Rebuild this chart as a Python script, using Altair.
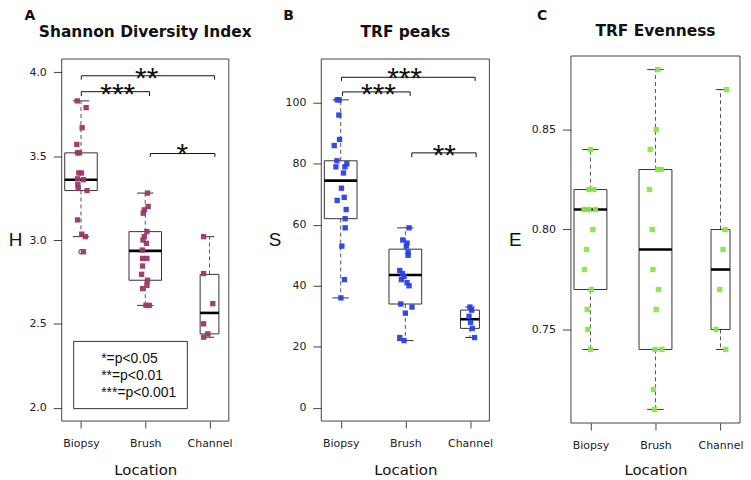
import altair as alt
import pandas as pd

GROUPS = ["Biopsy", "Brush", "Channel"]

# ---------------- Panel A : Shannon Diversity Index (H) ----------------
A_BIOPSY = [3.83, 3.79, 3.67, 3.57, 3.52, 3.52, 3.40, 3.40, 3.365, 3.36, 3.33, 3.31, 3.295, 3.12, 3.035, 3.02, 2.93]
A_BIOPSY_JIT = [-0.058, 0.080, 0.018, -0.065, -0.054, -0.023, -0.034, 0.008, -0.054, 0.038, -0.049, -0.043, 0.095, -0.054, 0.012, 0.069, 0.038]
A_BRUSH = [3.28, 3.20, 3.18, 3.16, 3.05, 3.02, 3.00, 2.98, 2.94, 2.89, 2.89, 2.845, 2.795, 2.76, 2.73, 2.71, 2.61, 2.61]
A_BRUSH_JIT = [0.035, 0.046, -0.015, -0.031, 0.026, -0.015, -0.035, 0.020, -0.046, -0.042, 0.026, -0.042, -0.057, 0.035, 0.026, -0.042, 0.011, 0.062]
A_CHANNEL = [3.02, 2.80, 2.62, 2.50, 2.44, 2.42]
A_CHANNEL_JIT = [-0.092, -0.092, 0.051, -0.092, -0.026, -0.092]
A_LOW = [3.02, 2.61, 2.42]
A_Q1 = [3.295, 2.76, 2.44]
A_MED = [3.36, 2.935, 2.565]
A_Q3 = [3.52, 3.05, 2.795]
A_HIGH = [3.83, 3.28, 3.02]
A_OUTLIER_GROUP = [1]
A_OUTLIER = [2.93]
A_BRACKET_X1 = [1.005, 1.005, 2.078]
A_BRACKET_X2 = [3.079, 2.067, 3.084]
A_BRACKET_Y = [3.980, 3.885, 3.516]
A_BRACKET_DROP = [3.957, 3.859, 3.496]
A_STARS = ["**", "***", "*"]
A_STAR_X = [2.023, 1.571, 2.577]
A_STAR_Y = [4.022, 3.927, 3.565]
LEGEND_LINES = ["*=p<0.05", "**=p<0.01", "***=p<0.001"]
LEGEND_LINE_Y = [2.296, 2.196, 2.091]
LEGEND_TEXT_X = [1.314, 1.314, 1.314]
LEGEND_BOX_X = [0.886, 2.655]
LEGEND_BOX_Y = [1.994, 2.395]

# ---------------- Panel B : TRF peaks (S) ----------------
B_BIOPSY = [101, 101, 96, 88, 86, 81, 80, 79, 79, 77, 72, 69, 68, 65, 62, 59, 53, 42, 36]
B_BIOPSY_JIT = [-0.054, -0.023, -0.028, -0.018, -0.100, -0.058, 0.095, -0.074, 0.065, 0.043, 0.012, 0.054, -0.054, 0.085, 0.069, 0.069, 0.018, 0.058, 0.003]
B_BRUSH = [59, 55, 54, 53, 51, 50, 45, 44, 43, 42, 41, 40, 34, 33, 31, 23, 22]
B_BRUSH_JIT = [0.057, -0.040, 0.026, 0.015, 0.042, 0.042, -0.086, -0.046, -0.020, -0.062, 0.026, 0.057, -0.071, 0.103, 0.000, -0.086, -0.020]
B_CHANNEL = [33, 32, 30, 28, 26, 23]
B_CHANNEL_JIT = [0.0, 0.025, -0.015, 0.009, 0.035, 0.071]
B_LOW = [36, 22, 23]
B_Q1 = [62, 34, 26]
B_MED = [74.5, 43.5, 29]
B_Q3 = [81, 52, 32]
B_HIGH = [101, 59, 33]
B_BRACKET_X1 = [1.012, 1.028, 2.100]
B_BRACKET_X2 = [3.080, 2.074, 3.095]
B_BRACKET_Y = [108.4, 103.6, 83.6]
B_BRACKET_DROP = [107.2, 102.3, 82.2]
B_STARS = ["***", "***", "**"]
B_STAR_X = [1.988, 1.585, 2.603]
B_STAR_Y = [111.0, 105.9, 85.8]

# ---------------- Panel C : TRF Evenness (E) ----------------
C_BIOPSY = [0.84, 0.82, 0.82, 0.81, 0.81, 0.81, 0.80, 0.79, 0.78, 0.77, 0.76, 0.75, 0.74]
C_BIOPSY_JIT = [0.0, -0.024, 0.052, -0.100, -0.024, 0.076, 0.037, -0.061, -0.092, 0.015, -0.050, -0.040, 0.0]
C_BRUSH = [0.88, 0.85, 0.84, 0.83, 0.83, 0.82, 0.80, 0.78, 0.77, 0.76, 0.74, 0.74, 0.72, 0.71]
C_BRUSH_JIT = [0.037, 0.011, -0.081, 0.037, 0.087, -0.092, -0.050, -0.040, 0.046, 0.011, -0.005, 0.098, -0.031, -0.015]
C_CHANNEL = [0.87, 0.80, 0.79, 0.77, 0.75, 0.74]
C_CHANNEL_JIT = [0.092, 0.070, 0.040, -0.011, -0.072, 0.081]
C_LOW = [0.74, 0.71, 0.74]
C_Q1 = [0.77, 0.74, 0.75]
C_MED = [0.81, 0.79, 0.78]
C_Q3 = [0.82, 0.83, 0.80]
C_HIGH = [0.84, 0.88, 0.87]

# ---------------- style ----------------
BOX_HALF = [0.253, 0.253, 0.146]   # varwidth boxes
H = 364
LINE = "#333333"
LABEL_FONT = "DejaVu Sans"


def points_df(vals, jits):
    rows = []
    for g, (vs, js) in enumerate(zip(vals, jits), start=1):
        for v, j in zip(vs, js):
            rows.append({"x": g + j, "y": v})
    return pd.DataFrame(rows)


def one_row():
    return pd.DataFrame({"k": [0]})


def panel(cfg):
    fw = cfg["frame_w"]
    xs = alt.Scale(domain=[0.7, 3.3], range=[0, fw], nice=False, zero=False)
    ys_kw = dict(domain=cfg["ydomain"], nice=False, zero=False)
    if "yrange" in cfg:
        ys_kw["range"] = cfg["yrange"]
    ys = alt.Scale(**ys_kw)
    xaxis = alt.Axis(
        values=[1, 2, 3],
        labelExpr="['Biopsy','Brush','Channel'][datum.value-1]",
        title="Location", grid=False, domain=False, tickSize=7, tickColor="#444444",
        labelFont=LABEL_FONT, labelFontSize=11, labelColor="#222222", labelPadding=10,
        labelFlush=False, labelOverlap=False,
        titleFont=LABEL_FONT, titleFontSize=15, titleFontWeight="normal", titleColor="#111111",
        titleX=fw / 2, titleY=cfg["xtitle_y"], titleBaseline="alphabetic", titleAlign="center",
        offset=cfg.get("xoffset", 0),
    )
    yaxis = alt.Axis(
        values=cfg["yticks"], format=cfg["yfmt"], title=cfg["ytitle"], grid=False, domain=False,
        tickSize=8.5, tickColor="#444444", labelFont=LABEL_FONT, labelFontSize=11,
        labelColor="#222222", labelPadding=7, labelFlush=False, labelOverlap=False,
        titleAngle=0, titleAlign="center", titleBaseline="middle", titleX=cfg["ytitle_x"],
        titleY=182, titleFont="Liberation Sans", titleFontSize=19, titleFontWeight="normal",
        titleColor="#111111",
    )
    X = alt.X("x:Q", scale=xs, axis=xaxis)
    Y = alt.Y("y:Q", scale=ys, axis=yaxis)
    X2 = alt.X2("x2:Q")
    Y2 = alt.Y2("y2:Q")

    g = [1, 2, 3]
    lo, q1, med, q3, hi = cfg["stats"]
    whisk = pd.DataFrame({"x": g + g, "y": q3 + q1, "y2": hi + lo})
    caps = pd.DataFrame({
        "x": [gi - h / 2 for gi, h in zip(g, BOX_HALF)] * 2,
        "x2": [gi + h / 2 for gi, h in zip(g, BOX_HALF)] * 2,
        "y": hi + lo,
    })
    box = pd.DataFrame({
        "x": [gi - h for gi, h in zip(g, BOX_HALF)],
        "x2": [gi + h for gi, h in zip(g, BOX_HALF)],
        "y": q1, "y2": q3,
    })
    meds = pd.DataFrame({
        "x": [gi - h for gi, h in zip(g, BOX_HALF)],
        "x2": [gi + h for gi, h in zip(g, BOX_HALF)],
        "y": med,
    })
    pts = points_df(cfg["values"], cfg["jitter"])

    fy0, fy1 = cfg.get("frame_y", (0, H))
    layers = [
        alt.Chart(one_row()).mark_rect(fillOpacity=0, stroke="#444444", strokeWidth=1).encode(
            x=alt.value(0), x2=alt.value(fw), y=alt.value(fy0), y2=alt.value(fy1)),
        alt.Chart(whisk).mark_rule(color="#555555", strokeDash=[4, 3], strokeWidth=1).encode(x=X, y=Y, y2=Y2),
        alt.Chart(caps).mark_rule(color=LINE, strokeWidth=1).encode(x=X, x2=X2, y=Y),
        alt.Chart(box).mark_rect(fillOpacity=0, stroke=LINE, strokeWidth=1).encode(x=X, x2=X2, y=Y, y2=Y2),
        alt.Chart(meds).mark_rule(color="#000000", strokeWidth=2.6).encode(x=X, x2=X2, y=Y),
    ]
    if "outliers" in cfg:
        og, ov = cfg["outliers"]
        layers.append(
            alt.Chart(pd.DataFrame({"x": og, "y": ov})).mark_point(
                shape="circle", filled=False, size=20, color=LINE, strokeWidth=1, opacity=1
            ).encode(x=X, y=Y))
    layers.append(
        alt.Chart(pts).mark_point(shape="square", filled=True, size=29, color=cfg["color"], opacity=0.95
                                  ).encode(x=X, y=Y))
    if "brackets" in cfg:
        bx1, bx2, by, bd, stars, sx, sy = cfg["brackets"]
        horiz = pd.DataFrame({"x": bx1, "x2": bx2, "y": by})
        vert = pd.DataFrame({"x": bx1 + bx2, "y": by + by, "y2": bd + bd})
        layers += [
            alt.Chart(horiz).mark_rule(color="#111111", strokeWidth=1).encode(x=X, x2=X2, y=Y),
            alt.Chart(vert).mark_rule(color="#111111", strokeWidth=1).encode(x=X, y=Y, y2=Y2),
            alt.Chart(pd.DataFrame({"x": sx, "y": sy, "t": stars})).mark_text(
                font="Liberation Sans", fontSize=30, align="center", baseline="alphabetic", dy=19,
                color="#111111").encode(x=X, y=Y, text="t:N"),
        ]
    if "legend" in cfg:
        lbx, lby, ltx, lty, lines = cfg["legend"]
        layers += [
            alt.Chart(pd.DataFrame({"x": [lbx[0]], "x2": [lbx[1]], "y": [lby[0]], "y2": [lby[1]]})).mark_rect(
                fillOpacity=0, stroke=LINE, strokeWidth=1).encode(x=X, x2=X2, y=Y, y2=Y2),
            alt.Chart(pd.DataFrame({"x": ltx, "y": lty, "t": lines})).mark_text(
                font="Liberation Sans", fontSize=14, align="left", baseline="alphabetic", dy=5,
                color="#111111").encode(x=X, y=Y, text="t:N"),
        ]
    layers += [
        alt.Chart(one_row()).mark_text(
            text=cfg["title"], font=LABEL_FONT, fontWeight="bold", fontSize=15.5, align="center",
            baseline="alphabetic", color="#111111").encode(x=alt.value(fw / 2), y=alt.value(cfg["title_y"])),
        alt.Chart(one_row()).mark_text(
            text=cfg["letter"], font=LABEL_FONT, fontWeight="bold", fontSize=14, align="center",
            baseline="middle", color="#111111").encode(x=alt.value(cfg["letter_x"]), y=alt.value(-43)),
    ]
    return alt.layer(*layers).properties(width=cfg["view_w"], height=H)


panel_a = panel({
    "frame_w": 168, "view_w": 179, "ydomain": [1.92, 4.08], "yticks": [2.0, 2.5, 3.0, 3.5, 4.0],
    "yfmt": ".1f", "ytitle": "H", "ytitle_x": -47, "xtitle_y": 54,
    "stats": (A_LOW, A_Q1, A_MED, A_Q3, A_HIGH),
    "values": [A_BIOPSY, A_BRUSH, A_CHANNEL], "jitter": [A_BIOPSY_JIT, A_BRUSH_JIT, A_CHANNEL_JIT],
    "outliers": (A_OUTLIER_GROUP, A_OUTLIER), "color": "#9b3766",
    "brackets": (A_BRACKET_X1, A_BRACKET_X2, A_BRACKET_Y, A_BRACKET_DROP, A_STARS, A_STAR_X, A_STAR_Y),
    "legend": (LEGEND_BOX_X, LEGEND_BOX_Y, LEGEND_TEXT_X, LEGEND_LINE_Y, LEGEND_LINES),
    "title": "Shannon Diversity Index", "title_y": -22, "letter": "A", "letter_x": -32,
})

panel_b = panel({
    "frame_w": 169, "view_w": 169, "ydomain": [-4.4, 114.4], "yticks": [0, 20, 40, 60, 80, 100],
    "yfmt": "d", "ytitle": "S", "ytitle_x": -47, "xtitle_y": 54,
    "stats": (B_LOW, B_Q1, B_MED, B_Q3, B_HIGH),
    "values": [B_BIOPSY, B_BRUSH, B_CHANNEL], "jitter": [B_BIOPSY_JIT, B_BRUSH_JIT, B_CHANNEL_JIT],
    "color": "#2b40e6",
    "brackets": (B_BRACKET_X1, B_BRACKET_X2, B_BRACKET_Y, B_BRACKET_DROP, B_STARS, B_STAR_X, B_STAR_Y),
    "title": "TRF peaks", "title_y": -22, "letter": "B", "letter_x": -33,
})

panel_c = panel({
    "frame_w": 170, "view_w": 170, "ydomain": [0.7032, 0.8868], "yrange": [366, -3],
    "frame_y": (-3, 366), "xoffset": 2,
    "yticks": [0.75, 0.80, 0.85], "yfmt": ".2f", "ytitle": "E", "ytitle_x": -56.5, "xtitle_y": 52,
    "stats": (C_LOW, C_Q1, C_MED, C_Q3, C_HIGH),
    "values": [C_BIOPSY, C_BRUSH, C_CHANNEL], "jitter": [C_BIOPSY_JIT, C_BRUSH_JIT, C_CHANNEL_JIT],
    "color": "#86e64a",
    "title": "TRF Evenness", "title_y": -23, "letter": "C", "letter_x": -29,
})

chart = alt.hconcat(panel_a, panel_b, panel_c, spacing=82, bounds="flush").properties(
    padding=0, background="white"
).configure_view(stroke=None)

chart.save("out.html", embed_options={"renderer": "svg", "actions": False})
